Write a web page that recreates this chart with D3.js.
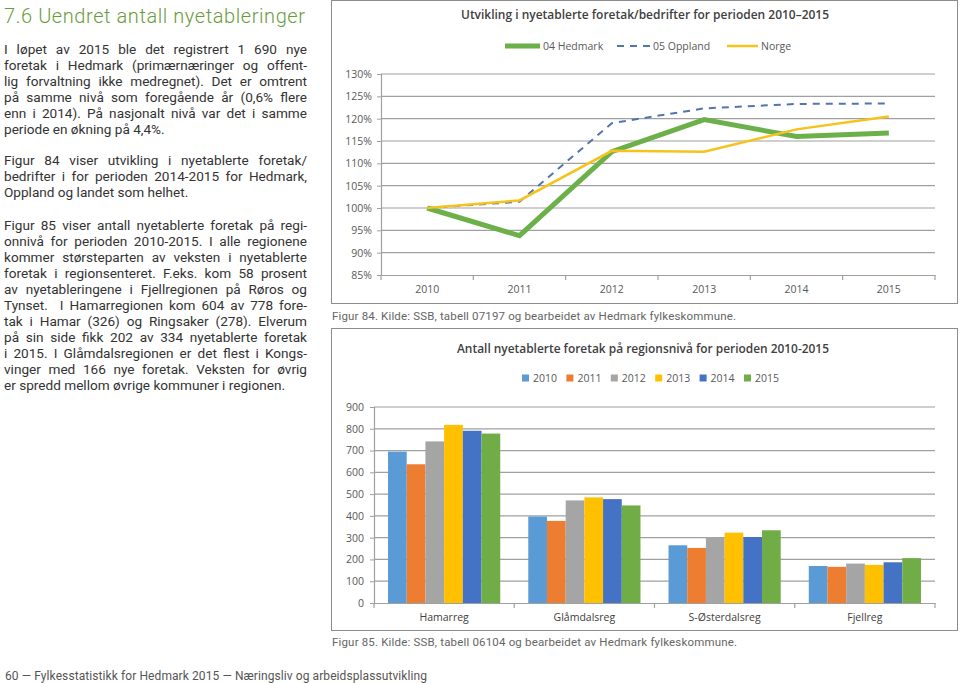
<!DOCTYPE html>
<html><head><meta charset="utf-8">
<script src="https://cdn.jsdelivr.net/npm/d3@7"></script>
<style>
body{margin:0;background:#fff;}
svg{display:block;}
</style></head>
<body>
<svg id="page" width="960" height="683"></svg>
<script>
// ---------- DATA ----------
const lineYears = ["2010","2011","2012","2013","2014","2015"];
const hedmark = [1.000, 0.938, 1.126, 1.198, 1.160, 1.168];
const oppland = [1.000, 1.014, 1.190, 1.223, 1.233, 1.234];
const norge   = [1.000, 1.017, 1.128, 1.126, 1.176, 1.205];
const lineSeriesNames = ["04 Hedmark","05 Oppland","Norge"];
const pctTicks = [0.85,0.90,0.95,1.00,1.05,1.10,1.15,1.20,1.25,1.30];

const regions = ["Hamarreg","Glåmdalsreg","S-Østerdalsreg","Fjellreg"];
const barYears = ["2010","2011","2012","2013","2014","2015"];
const v2010 = [695, 397, 265, 170];
const v2011 = [637, 377, 253, 166];
const v2012 = [742, 471, 303, 181];
const v2013 = [818, 485, 323, 175];
const v2014 = [791, 477, 303, 187];
const v2015 = [778, 448, 334, 206];
const countTicks = [0,100,200,300,400,500,600,700,800,900];

const titleText = "7.6  Uendret antall nyetableringer";
const paragraphs = [
 ["I løpet av 2015 ble det registrert 1 690 nye",
  "foretak i Hedmark (primærnæringer og offent-",
  "lig forvaltning ikke medregnet). Det er omtrent",
  "på samme nivå som foregående år (0,6% flere",
  "enn i 2014). På nasjonalt nivå var det i samme",
  "periode en økning på 4,4%."],
 ["Figur 84 viser utvikling i nyetablerte foretak/",
  "bedrifter i for perioden 2014-2015 for Hedmark,",
  "Oppland og landet som helhet."],
 ["Figur 85 viser antall nyetablerte foretak på regi-",
  "onnivå for perioden 2010-2015. I alle regionene",
  "kommer størsteparten av veksten i nyetablerte",
  "foretak i regionsenteret. F.eks. kom 58 prosent",
  "av nyetableringene i Fjellregionen på Røros og",
  "Tynset.  I Hamarregionen kom 604 av 778 fore-",
  "tak i Hamar (326) og Ringsaker (278). Elverum",
  "på sin side fikk 202 av 334 nyetablerte foretak",
  "i 2015. I Glåmdalsregionen er det flest i Kongs-",
  "vinger med 166 nye foretak. Veksten for øvrig",
  "er spredd mellom øvrige kommuner i regionen."]
];
const chart1Title = "Utvikling i nyetablerte foretak/bedrifter for perioden 2010–2015";
const chart2Title = "Antall nyetablerte foretak på regionsnivå for perioden 2010-2015";
const caption1 = "Figur 84. Kilde: SSB, tabell 07197 og bearbeidet av Hedmark fylkeskommune.";
const caption2 = "Figur 85. Kilde: SSB, tabell 06104 og bearbeidet av Hedmark fylkeskommune.";
const footer = "60  —  Fylkesstatistikk for Hedmark 2015  —  Næringsliv og arbeidsplassutvikling";

// ---------- PAGE ----------
const svg = d3.select("#page");
svg.append("rect").attr("width",960).attr("height",683).attr("fill","#fff");

const bodyFont = "Roboto, 'Noto Sans', sans-serif";
const chartFont = "'Open Sans', 'Noto Sans', sans-serif";

svg.append("text").attr("x",4).attr("y",23)
  .attr("font-family",bodyFont).attr("font-size",20).attr("font-weight",300).attr("fill","#6a9c3d")
  .attr("textLength",301).attr("lengthAdjust","spacing")
  .text(titleText);

// body text: condensed by horizontal scale, justified by word spacing
const paraStart = [49, 160, 225];
const lh = 16;
const colWidth = 303;
const probe = svg.append("text").attr("font-family",bodyFont).attr("font-size",13.6)
  .text(paragraphs[0][5]);
const natLast = probe.node().getComputedTextLength();
probe.remove();
const sx = Math.min(1, 173/natLast);
const body = svg.append("g").attr("transform",`translate(4,0) scale(${sx},1)`);
paragraphs.forEach((lines,pi)=>{
  lines.forEach((ln,li)=>{
    const t = body.append("text").attr("x",0).attr("y",paraStart[pi]+li*lh+5)
      .attr("font-family",bodyFont).attr("font-size",13.6).attr("fill","#333")
      .style("white-space","pre").text(ln);
    const nat = t.node().getComputedTextLength();
    const target = colWidth/sx;
    const spaces = (ln.match(/ /g)||[]).length;
    if (li < lines.length-1 || nat > target) {
      if (spaces>0 && nat < target) t.attr("word-spacing", (target-nat)/spaces);
      else t.attr("textLength", target).attr("lengthAdjust","spacing");
    }
  });
});

svg.append("text").attr("x",5).attr("y",680)
  .attr("font-family",bodyFont).attr("font-size",12).attr("fill","#555")
  .attr("textLength",422).attr("lengthAdjust","spacing").text(footer);

// ---------- CHART 1 ----------
const g1 = svg.append("g");
g1.append("rect").attr("x",331.5).attr("y",0.5).attr("width",626).attr("height",303)
  .attr("fill","#fff").attr("stroke","#8c8c8c");
g1.append("text").attr("x",645).attr("y",19).attr("text-anchor","middle")
  .attr("font-family",chartFont).attr("font-size",12.5).attr("font-weight",600).attr("fill","#404040")
  .attr("textLength",368).attr("lengthAdjust","spacingAndGlyphs").text(chart1Title);

const x1 = d3.scaleBand().domain(lineYears).range([381,935]);
const y1 = d3.scaleLinear().domain([0.85,1.30]).range([275,74]);

g1.append("g").selectAll("line").data(pctTicks.filter(d=>d>0.85)).join("line")
  .attr("x1",381).attr("x2",935).attr("y1",d=>y1(d)).attr("y2",d=>y1(d))
  .attr("stroke","#a0a0a0").attr("stroke-width",1.2);

const ya1 = g1.append("g").attr("transform","translate(381,0)")
  .call(d3.axisLeft(y1).tickValues(pctTicks).tickSize(4).tickPadding(5).tickFormat(d3.format(".0%")));
ya1.select(".domain").attr("stroke","#a0a0a0").attr("stroke-width",1.2);
ya1.selectAll(".tick line").attr("stroke","#a0a0a0");
ya1.selectAll("text").attr("font-family",chartFont).attr("font-size",10.5).attr("fill","#595959");

const xa1 = g1.append("g").attr("transform","translate(0,275)")
  .call(d3.axisBottom(x1).tickSize(0).tickPadding(11));
xa1.select(".domain").attr("stroke","#a0a0a0").attr("stroke-width",1.2);
xa1.selectAll("text").attr("font-family",chartFont).attr("font-size",10.5).attr("fill","#595959");
g1.append("g").selectAll("line").data(lineYears.concat(["end"])).join("line")
  .attr("x1",(d,i)=> i<lineYears.length ? x1(d) : x1.range()[1])
  .attr("x2",(d,i)=> i<lineYears.length ? x1(d) : x1.range()[1])
  .attr("y1",275).attr("y2",280).attr("stroke","#a0a0a0").attr("stroke-width",1.2);

const lineGen = d3.line().x((d,i)=>x1(lineYears[i])+x1.bandwidth()/2).y(d=>y1(d));
const lineStyles = [
  {data:hedmark, color:"#6cb04a", w:5, dash:null},
  {data:oppland, color:"#5175ad", w:2, dash:"7,6"},
  {data:norge, color:"#f6c31c", w:2.5, dash:null}
];
lineStyles.forEach(s=>{
  g1.append("path").attr("d",lineGen(s.data)).attr("fill","none")
    .attr("stroke",s.color).attr("stroke-width",s.w).attr("stroke-linejoin","miter")
    .attr("stroke-dasharray",s.dash);
});
const leg1 = [{x:505,len:35,tx:543},{x:617,len:33,tx:653},{x:727,len:31,tx:761}];
leg1.forEach((l,i)=>{
  const s = lineStyles[i];
  g1.append("line").attr("x1",l.x).attr("x2",l.x+l.len).attr("y1",46).attr("y2",46)
    .attr("stroke",s.color).attr("stroke-width",s.w).attr("stroke-dasharray",s.dash);
  g1.append("text").attr("x",l.tx).attr("y",50).attr("font-family",chartFont)
    .attr("font-size",10.5).attr("fill","#595959").text(lineSeriesNames[i]);
});

svg.append("text").attr("x",332).attr("y",320)
  .attr("font-family",bodyFont).attr("font-size",11.5).attr("fill","#666")
  .attr("textLength",404).attr("lengthAdjust","spacing").text(caption1);

// ---------- CHART 2 ----------
const g2 = svg.append("g");
g2.append("rect").attr("x",331.5).attr("y",328.5).attr("width",626).attr("height",302)
  .attr("fill","#fff").attr("stroke","#8c8c8c");
g2.append("text").attr("x",643).attr("y",353).attr("text-anchor","middle")
  .attr("font-family",chartFont).attr("font-size",12.5).attr("font-weight",600).attr("fill","#404040")
  .attr("textLength",372).attr("lengthAdjust","spacingAndGlyphs").text(chart2Title);

const barColors = ["#5b9bd5","#ed7d31","#a5a5a5","#ffc000","#4472c4","#70ad47"];
const barValues = [v2010,v2011,v2012,v2013,v2014,v2015];

const x0 = d3.scaleBand().domain(regions).range([374,935]);
const bw0 = x0.bandwidth();
const xb = d3.scaleBand().domain(barYears).range([bw0*0.1,bw0*0.9]);
const y2 = d3.scaleLinear().domain([0,900]).range([603,407]);

g2.append("g").selectAll("line").data(countTicks.filter(d=>d>0)).join("line")
  .attr("x1",374).attr("x2",935).attr("y1",d=>y2(d)).attr("y2",d=>y2(d))
  .attr("stroke","#a0a0a0").attr("stroke-width",1.2);

const ya2 = g2.append("g").attr("transform","translate(374,0)")
  .call(d3.axisLeft(y2).tickValues(countTicks).tickSize(4).tickPadding(6).tickFormat(d3.format("d")));
ya2.select(".domain").attr("stroke","#a0a0a0").attr("stroke-width",1.2);
ya2.selectAll(".tick line").attr("stroke","#a0a0a0");
ya2.selectAll("text").attr("font-family",chartFont).attr("font-size",10.5).attr("fill","#595959");

barYears.forEach((yr,yi)=>{
  g2.append("g").selectAll("rect").data(regions).join("rect")
    .attr("x",r=>x0(r)+xb(yr)).attr("width",xb.bandwidth())
    .attr("y",(r,ri)=>y2(barValues[yi][ri])).attr("height",(r,ri)=>y2(0)-y2(barValues[yi][ri]))
    .attr("fill",barColors[yi]);
});

const xa2 = g2.append("g").attr("transform","translate(0,603)")
  .call(d3.axisBottom(x0).tickSize(0).tickPadding(11));
xa2.select(".domain").attr("stroke","#a0a0a0").attr("stroke-width",1.2);
xa2.selectAll("text").attr("font-family",chartFont).attr("font-size",10.5).attr("fill","#404040");
g2.append("g").selectAll("line").data(regions.concat(["end"])).join("line")
  .attr("x1",(d,i)=> i<regions.length ? x0(d) : x0.range()[1])
  .attr("x2",(d,i)=> i<regions.length ? x0(d) : x0.range()[1])
  .attr("y1",603).attr("y2",608).attr("stroke","#a0a0a0").attr("stroke-width",1.2);

barYears.forEach((yr,i)=>{
  const lx = 522 + i*44.4;
  g2.append("rect").attr("x",lx).attr("y",374.5).attr("width",7).attr("height",7).attr("fill",barColors[i]);
  g2.append("text").attr("x",lx+11).attr("y",382).attr("font-family",chartFont)
    .attr("font-size",10.5).attr("fill","#595959").text(yr);
});

svg.append("text").attr("x",332).attr("y",646)
  .attr("font-family",bodyFont).attr("font-size",11.5).attr("fill","#666")
  .attr("textLength",405).attr("lengthAdjust","spacing").text(caption2);
</script>
</body></html>
